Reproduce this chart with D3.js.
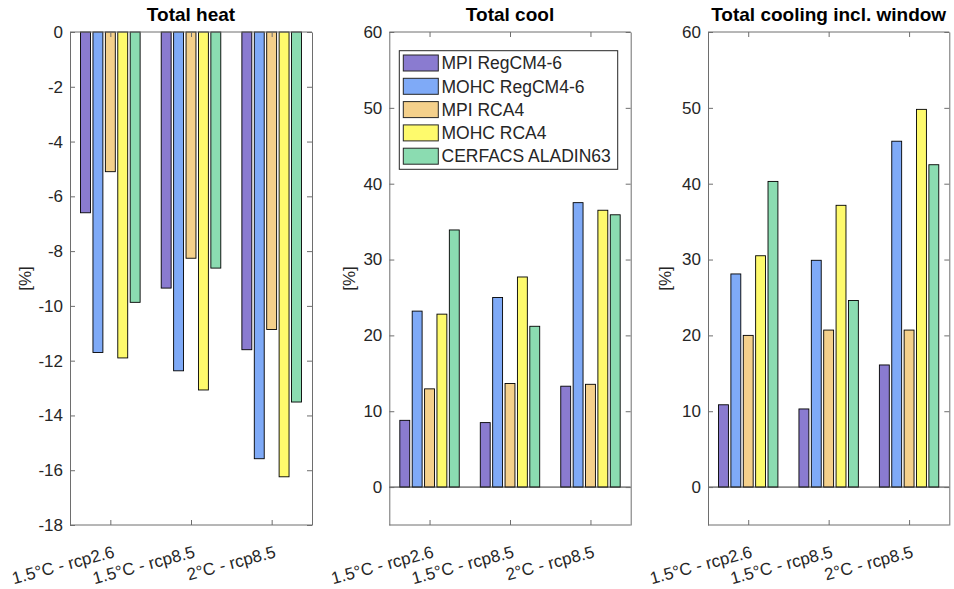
<!DOCTYPE html>
<html><head><meta charset="utf-8">
<script src="https://cdn.jsdelivr.net/npm/d3@7"></script>
<style>
body{margin:0;background:#fff;}
svg{display:block;font-family:"Liberation Sans",Arial,Helvetica,sans-serif;}
</style></head>
<body><svg id="c" width="954" height="589"></svg>
<script>
const categories = ["1.5°C - rcp2.6", "1.5°C - rcp8.5", "2°C - rcp8.5"];
const seriesNames = ["MPI RegCM4-6", "MOHC RegCM4-6", "MPI RCA4", "MOHC RCA4", "CERFACS ALADIN63"];
const seriesColors = ["#8a7bd0", "#7faaf7", "#f4d08b", "#fefa6c", "#8bdcb1"];
const panelTitles = ["Total heat", "Total cool", "Total cooling incl. window"];

// values per series (rows) across categories (columns)
const heatValues = [
  [-6.6, -9.35, -11.6],
  [-11.7, -12.37, -15.58],
  [-5.1, -8.26, -10.86],
  [-11.9, -13.07, -16.24],
  [-9.87, -8.62, -13.51]
];
const coolValues = [
  [8.8, 8.5, 13.3],
  [23.2, 25.0, 37.5],
  [12.95, 13.65, 13.55],
  [22.8, 27.7, 36.5],
  [33.9, 21.2, 35.9]
];
const coolWindowValues = [
  [10.85, 10.3, 16.1],
  [28.1, 29.9, 45.6],
  [20.0, 20.7, 20.7],
  [30.5, 37.15, 49.8],
  [40.3, 24.6, 42.5]
];
const heatTicks = [0, -2, -4, -6, -8, -10, -12, -14, -16, -18];
const coolTicks = [0, 10, 20, 30, 40, 50, 60];

const svg = d3.select("#c");
const plotTop = 32, plotBottom = 525;
const panels = [
  {left: 70, right: 312, data: heatValues, domain: [-18, 0], ticks: heatTicks, ylab: 24.5},
  {left: 389.3, right: 630.7, data: coolValues, domain: [-5, 60], ticks: coolTicks, ylab: 349},
  {left: 708, right: 949.3, data: coolWindowValues, domain: [-5, 60], ticks: coolTicks, ylab: 665}
];
const textCol = "#262626", boxCol = "#6e6e6e";

panels.forEach((p, pi) => {
  const g = svg.append("g");
  const x0 = d3.scaleBand().domain(categories).range([p.left, p.right]).padding(0);
  const bw = x0.bandwidth();
  const gw = bw * (5 / 6.5);
  const x1 = d3.scaleBand().domain(d3.range(seriesNames.length))
    .range([(bw - gw) / 2, (bw + gw) / 2]).paddingInner(0.2).paddingOuter(0.1);
  const y = d3.scaleLinear().domain(p.domain).range([plotBottom, plotTop]);

  // bars
  seriesNames.forEach((s, si) => {
    g.append("g").selectAll("rect").data(p.data[si]).join("rect")
      .attr("x", (d, i) => x0(categories[i]) + x1(si))
      .attr("width", x1.bandwidth())
      .attr("y", d => Math.min(y(d), y(0)))
      .attr("height", d => Math.abs(y(d) - y(0)))
      .attr("fill", seriesColors[si])
      .attr("stroke", "#000").attr("stroke-width", 0.9);
  });
  // baseline
  if (p.domain[0] < 0 && p.domain[1] > 0) {
    g.append("line").attr("x1", p.left).attr("x2", p.right)
      .attr("y1", y(0)).attr("y2", y(0)).attr("stroke", "#333").attr("stroke-width", 1);
  }

  // axes
  const yAxisL = d3.axisLeft(y).tickValues(p.ticks).tickSizeInner(-5).tickSizeOuter(0)
    .tickPadding(7).tickFormat(d => String(d));
  const gl = g.append("g").attr("transform", `translate(${p.left},0)`).call(yAxisL);
  gl.select(".domain").attr("stroke", boxCol);
  gl.selectAll(".tick line").attr("stroke", boxCol);
  gl.selectAll(".tick text").attr("fill", textCol).attr("font-size", 17).attr("font-family", "Liberation Sans, Arial, sans-serif");
  const gr = g.append("g").attr("transform", `translate(${p.right},0)`)
    .call(d3.axisRight(y).tickValues(p.ticks).tickSizeInner(-5).tickSizeOuter(0).tickFormat(""));
  gr.select(".domain").attr("stroke", boxCol);
  gr.selectAll(".tick line").attr("stroke", boxCol);

  const xc = d3.scalePoint().domain(categories).range([p.left + bw / 2, p.right - bw / 2]);
  const gb = g.append("g").attr("transform", `translate(0,${plotBottom})`)
    .call(d3.axisBottom(xc).tickSizeInner(-5).tickSizeOuter(0).tickFormat(""));
  gb.select(".domain").remove();
  gb.selectAll(".tick line").attr("stroke", boxCol);
  const gt = g.append("g").attr("transform", `translate(0,${plotTop})`)
    .call(d3.axisTop(xc).tickSizeInner(-5).tickSizeOuter(0).tickFormat(""));
  gt.select(".domain").remove();
  gt.selectAll(".tick line").attr("stroke", boxCol);
  g.append("line").attr("x1", p.left).attr("x2", p.right).attr("y1", plotBottom).attr("y2", plotBottom).attr("stroke", boxCol);
  g.append("line").attr("x1", p.left).attr("x2", p.right).attr("y1", plotTop).attr("y2", plotTop).attr("stroke", boxCol);

  // rotated category labels
  g.append("g").selectAll("text").data(categories).join("text")
    .attr("transform", d => `translate(${xc(d) + 5},${plotBottom + 32}) rotate(-15)`)
    .attr("text-anchor", "end").attr("fill", textCol).attr("font-size", 17)
    .text(d => d);

  // title
  g.append("text").attr("x", (p.left + p.right) / 2).attr("y", 21)
    .attr("text-anchor", "middle").attr("font-weight", "bold").attr("font-size", 19)
    .attr("fill", "#000").text(panelTitles[pi]);

  // y label
  g.append("text").attr("transform", `translate(${p.ylab + 6},${(plotTop + plotBottom) / 2}) rotate(-90)`)
    .attr("text-anchor", "middle").attr("fill", textCol).attr("font-size", 17).text("[%]");
});

// legend (in second panel)
const lg = svg.append("g");
lg.append("rect").attr("x", 399.3).attr("y", 50.7).attr("width", 218.4).attr("height", 118.6)
  .attr("fill", "#fff").attr("stroke", textCol).attr("stroke-width", 1);
seriesNames.forEach((s, si) => {
  const cy = 63 + si * 23.3;
  lg.append("rect").attr("x", 403.3).attr("y", cy - 8).attr("width", 35).attr("height", 16)
    .attr("fill", seriesColors[si]).attr("stroke", textCol).attr("stroke-width", 1);
  lg.append("text").attr("x", 441.5).attr("y", cy + 6.2).attr("fill", textCol)
    .attr("font-size", 17.5).text(s);
});
</script></body></html>
